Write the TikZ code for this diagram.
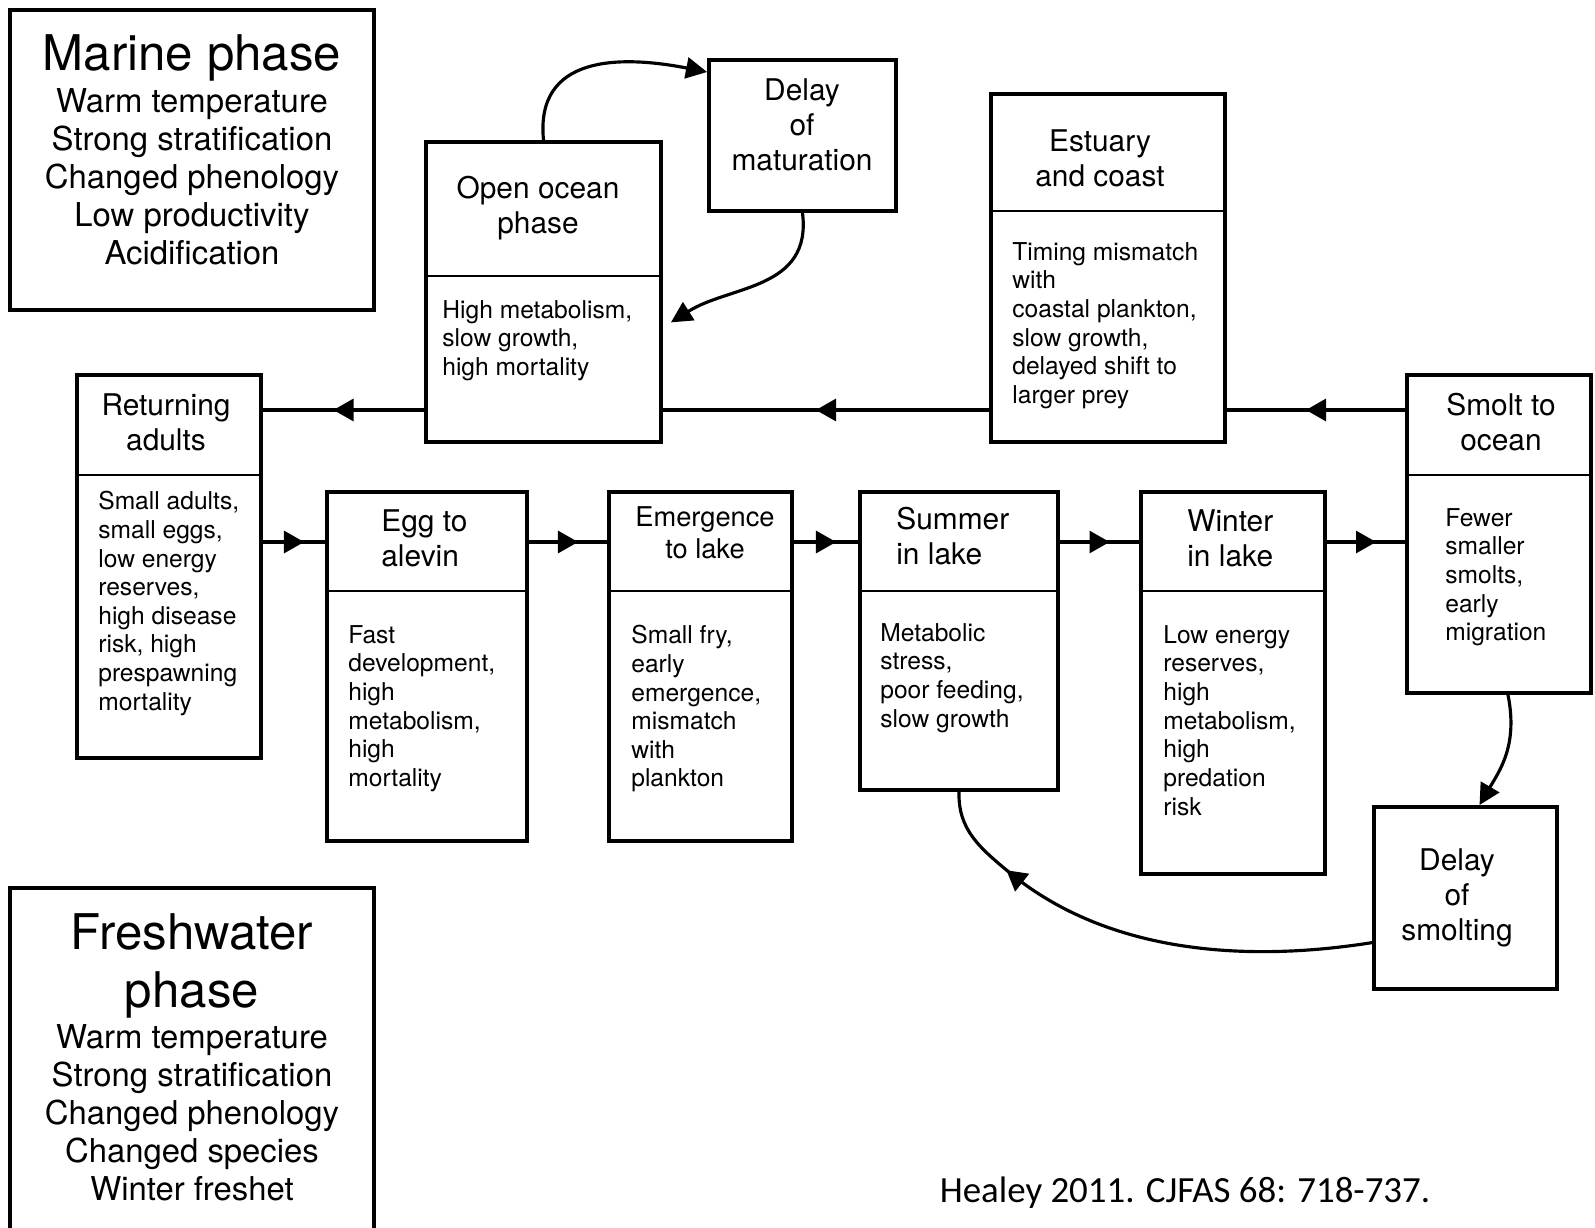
\documentclass[tikz,border=0pt]{standalone}
\usepackage{fontspec}
\setmainfont{TeX Gyre Heros}
\newfontfamily\citefont{Carlito}
\usetikzlibrary{arrows.meta, fit, calc, decorations.markings}

\begin{document}
\begin{tikzpicture}[x=0.02cm, y=-0.02cm,
        stagebox/.style={draw=black, line width=2.2pt, inner sep=0pt},
        divider/.style={line width=0.8pt},
        stagehead/.style={inner sep=0pt, align=center, font=\fontsize{17}{20}\selectfont},
        stagebody/.style={inner sep=0pt, anchor=north west, align=left, font=\fontsize{14}{16.3}\selectfont},
        phaselist/.style={inner sep=0pt, align=center, font=\fontsize{18.7}{21.7}\selectfont},
        phasetitle/.style={inner sep=0pt, align=center, font=\fontsize{28}{33}\selectfont},
        midarrow/.style={line width=1.8pt, postaction={decorate}, decoration={markings, mark=at position #1 with {\fill (5.7pt,0) -- (-5.7pt,6.5pt) -- (-5.7pt,-6.5pt) -- cycle;}}},
        flow/.style={midarrow=0.5},
        loopback/.style={line width=1.8pt, -{Triangle[length=12pt, width=12pt]}}]
    \clip (0,0) rectangle (1595,1227);

    % phase boxes
    \node[stagebox, fit={(10,10) (374,310)}] (marine) {};
    \node[phasetitle] (marinetitle) at (192,58) {Marine phase};
    \node[phaselist] (marinelist) at (192,177) {Warm temperature\\Strong stratification\\Changed phenology\\Low productivity\\Acidification};

    \node[stagebox, fit={(10,888) (374,1245)}] (fresh) {};
    \node[phasetitle] (freshtitle) at (192,966) {Freshwater\\phase};
    \node[phaselist] (freshlist) at (192,1113) {Warm temperature\\Strong stratification\\Changed phenology\\Changed species\\Winter freshet};

    % stages
    \node[stagebox, fit={(426,142) (661,442)}] (ocean) {};
    \draw[divider] (ocean.west |- 0,276) -- (ocean.east |- 0,276);
    \node[stagehead] (oceanhead) at (538,208) {Open ocean\\phase};
    \node[stagebody] (oceanbody) at (442,300) {High metabolism,\\slow growth,\\high mortality};

    \node[stagebox, fit={(709,60) (896,211)}] (delaymat) {};
    \node[stagehead] (delaymathead) at (802,125) {Delay\\of\\maturation};

    \node[stagebox, fit={(991,94) (1225,442)}] (estuary) {};
    \draw[divider] (estuary.west |- 0,211) -- (estuary.east |- 0,211);
    \node[stagehead] (estuaryhead) at (1100,158) {Estuary\\and coast};
    \node[stagebody] (estuarybody) at (1012,242) {Timing mismatch\\with\\coastal plankton,\\slow growth,\\delayed shift to\\larger prey};

    \node[stagebox, fit={(77,375) (261,758)}] (ret) {};
    \draw[divider] (ret.west |- 0,475) -- (ret.east |- 0,475);
    \node[stagehead] (rethead) at (166,422) {Returning\\adults};
    \node[stagebody] (retbody) at (98,491) {Small adults,\\small eggs,\\low energy\\reserves,\\high disease\\risk, high\\prespawning\\mortality};

    \node[stagebox, fit={(327,492) (527,841)}] (egg) {};
    \draw[divider] (egg.west |- 0,591) -- (egg.east |- 0,591);
    \node[stagehead, align=left, anchor=west] (egghead) at (381,538) {Egg to\\alevin};
    \node[stagebody] (eggbody) at (348,625) {Fast\\development,\\high\\metabolism,\\high\\mortality};

    \node[stagebox, fit={(609,492) (792,841)}] (emerge) {};
    \draw[divider] (emerge.west |- 0,591) -- (emerge.east |- 0,591);
    \node[stagehead, font=\fontsize{15.5}{18}\selectfont] (emergehead) at (705,533) {Emergence\\to lake};
    \node[stagebody] (emergebody) at (631,625) {Small fry,\\early\\emergence,\\mismatch\\with\\plankton};

    \node[stagebox, fit={(860,492) (1058,790)}] (summer) {};
    \draw[divider] (summer.west |- 0,591) -- (summer.east |- 0,591);
    \node[stagehead, align=left, anchor=west] (summerhead) at (896,536) {Summer\\in lake};
    \node[stagebody] (summerbody) at (880,623) {Metabolic\\stress,\\poor feeding,\\slow growth};

    \node[stagebox, fit={(1141,492) (1325,874)}] (winter) {};
    \draw[divider] (winter.west |- 0,591) -- (winter.east |- 0,591);
    \node[stagehead, align=left, anchor=west] (winterhead) at (1187,538) {Winter\\in lake};
    \node[stagebody] (winterbody) at (1163,625) {Low energy\\reserves,\\high\\metabolism,\\high\\predation\\risk};

    \node[stagebox, fit={(1407,375) (1591,693)}] (smolt) {};
    \draw[divider] (smolt.west |- 0,475) -- (smolt.east |- 0,475);
    \node[stagehead] (smolthead) at (1501,422) {Smolt to\\ocean};
    \node[stagebody] (smoltbody) at (1445,508) {Fewer\\smaller\\smolts,\\early\\migration};

    \node[stagebox, fit={(1374,807) (1557,989)}] (delaysm) {};
    \node[stagehead] (delaysmhead) at (1457,898) {Delay\\of\\smolting};

    \node[inner sep=0pt, font=\citefont\fontsize{21}{25}\selectfont] (cite) at (1185,1193) {Healey 2011. CJFAS 68: 718-737.};

    % connectors
    \coordinate (upper) at (0,410);
    \coordinate (lower) at (0,542);
    \draw[flow] (smolt.west |- upper) -- (estuary.east |- upper);
    \draw[flow] (estuary.west |- upper) -- (ocean.east |- upper);
    \draw[flow] (ocean.west |- upper) -- (ret.east |- upper);
    \draw[flow] (ret.east |- lower) -- (egg.west |- lower);
    \draw[flow] (egg.east |- lower) -- (emerge.west |- lower);
    \draw[flow] (emerge.east |- lower) -- (summer.west |- lower);
    \draw[flow] (summer.east |- lower) -- (winter.west |- lower);
    \draw[flow] (winter.east |- lower) -- (smolt.west |- lower);

    \draw[loopback] (ocean.north) .. controls (535,55) and (620,55) .. ($(delaymat.north west)!0.09!(delaymat.south west)$);
    \draw[loopback] (delaymat.south) .. controls (812,290) and (730,285) .. ($(ocean.north east)!0.6!(ocean.south east)+(8,0)$);
    \draw[loopback] ($(smolt.south)+(9,0)$) .. controls (1518,745) and (1500,770) .. ($(delaysm.north)+(14,0)$);
    \draw[midarrow=0.78] ($(delaysm.north west)!0.74!(delaysm.south west)$) .. controls (1250,962) and (1110,955) .. (1010,873) .. controls (980,848) and (958,830) .. (summer.south);
\end{tikzpicture}
\end{document}
